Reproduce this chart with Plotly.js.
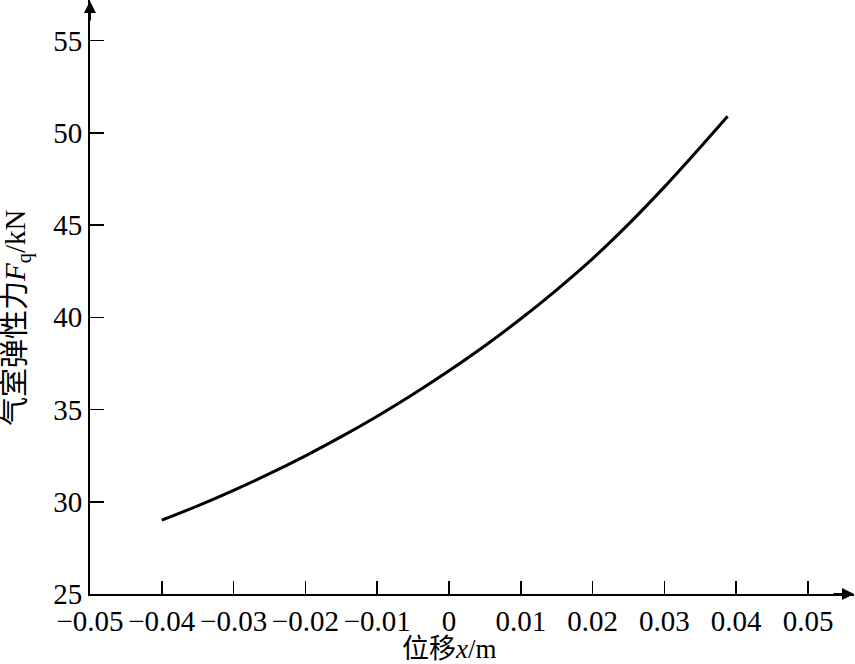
<!DOCTYPE html>
<html>
<head>
<meta charset="utf-8">
<script src="https://cdn.plot.ly/plotly-3.0.1.min.js"></script>
<style>html,body{margin:0;padding:0;background:#fff;}#chart{width:855px;height:664px;}</style>
</head>
<body>
<div id="chart"></div>
<script>
// Displacement x (m) and air-chamber elastic force Fq (kN)
var displacement = [-0.04, -0.035, -0.03, -0.025, -0.02, -0.015, -0.01, -0.005, 0, 0.005, 0.01, 0.015, 0.02, 0.025, 0.03, 0.035, 0.0388];
var force = [29.0, 29.78, 30.62, 31.52, 32.49, 33.53, 34.64, 35.83, 37.10, 38.46, 39.92, 41.49, 43.18, 45.05, 47.07, 49.22, 50.9];
var xTicks = [-0.05, -0.04, -0.03, -0.02, -0.01, 0, 0.01, 0.02, 0.03, 0.04, 0.05];
var xTickText = ['\u22120.05', '\u22120.04', '\u22120.03', '\u22120.02', '\u22120.01', '0', '0.01', '0.02', '0.03', '0.04', '0.05'];
var yTicks = [25, 30, 35, 40, 45, 50, 55];
var xTitle = '位移<i>x</i>/m';
var yTitle = '气室弹性力<i>F</i><sub>q</sub>/kN';

var serif = 'Liberation Serif, "Times New Roman", "Noto Sans CJK SC", serif';

var trace = {
  x: displacement, y: force, type: 'scatter', mode: 'lines',
  line: {color: '#000', width: 3, shape: 'spline', smoothing: 1},
  hoverinfo: 'skip'
};

var layout = {
  width: 855, height: 664,
  margin: {l: 90, r: 1, t: 0, b: 70},
  paper_bgcolor: '#fff', plot_bgcolor: '#fff',
  showlegend: false,
  font: {family: serif, color: '#000', size: 29},
  xaxis: {
    range: [-0.05, 0.0564], showgrid: false, zeroline: false,
    showline: true, linecolor: '#000', linewidth: 2,
    ticks: 'inside', ticklen: 13, tickwidth: 1.5, tickcolor: '#000',
    tickmode: 'array', tickvals: xTicks, ticktext: xTickText,
    tickfont: {family: serif, size: 29, color: '#000'},
    fixedrange: true
  },
  yaxis: {
    range: [25, 57.2], showgrid: false, zeroline: false,
    showline: true, linecolor: '#000', linewidth: 2,
    ticks: 'inside', ticklen: 14, tickwidth: 1.5, tickcolor: '#000',
    tickmode: 'array', tickvals: yTicks,
    tickfont: {family: serif, size: 29, color: '#000'},
    fixedrange: true
  },
  annotations: [
    {xref: 'paper', yref: 'paper', x: 0.471, y: -0.093, xanchor: 'center', yanchor: 'middle',
     text: xTitle, showarrow: false, font: {family: serif, size: 27, color: '#000'}},
    {xref: 'paper', yref: 'paper', x: -0.094, y: 0.465, xanchor: 'center', yanchor: 'middle',
     text: yTitle, textangle: -90, showarrow: false, font: {family: serif, size: 29, color: '#000'}},
    {xref: 'paper', yref: 'paper', x: 1, y: 0, ax: -22, ay: 0, axref: 'pixel', ayref: 'pixel',
     text: '', showarrow: true, arrowhead: 2, arrowsize: 1.2, arrowwidth: 2, arrowcolor: '#000', standoff: 0},
    {xref: 'paper', yref: 'paper', x: 0, y: 1, ax: 0, ay: 22, axref: 'pixel', ayref: 'pixel',
     text: '', showarrow: true, arrowhead: 2, arrowsize: 1.2, arrowwidth: 2, arrowcolor: '#000', standoff: 0}
  ]
};

Plotly.newPlot('chart', [trace], layout, {displayModeBar: false, staticPlot: true});
</script>
</body>
</html>
